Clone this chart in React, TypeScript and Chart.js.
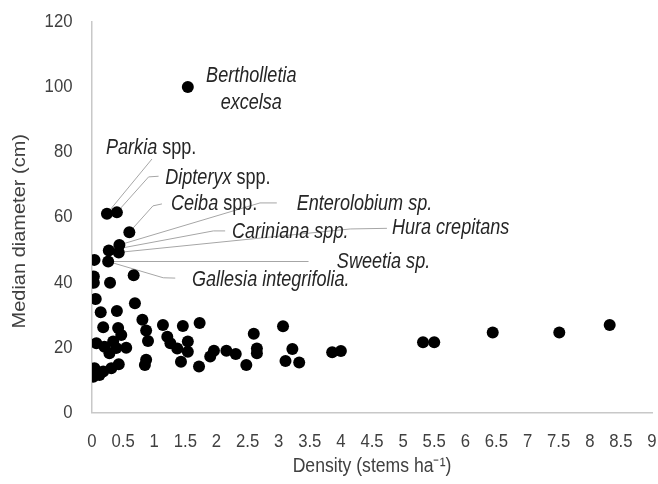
import { useEffect, useRef } from 'react';
import { Chart, registerables } from 'chart.js';

Chart.register(...registerables);

// ---- data (density in stems/ha, median diameter in cm) ----
const density = [
  1.54, 0.24, 0.40, 0.60, 0.44, 0.27, 0.43, 0.04, 0.26,
  0.03, 0.03, 0.29, 0.67, 0.06, 0.69, 0.14, 0.40, 0.81,
  0.18, 0.42, 0.47, 0.87, 0.90, 0.07, 0.20, 0.34, 0.39, 0.55, 0.28,
  0.87, 0.85, 0.04, 0.02, 0.18, 0.31, 0.43, 0.12,
  1.14, 1.46, 1.73, 1.21, 1.26, 1.37, 1.54, 1.54, 1.43, 1.72, 1.90, 1.96,
  2.16, 2.31, 2.48, 2.60, 2.65, 2.65, 3.07, 3.22, 3.11, 3.33, 3.86, 4.00,
  5.32, 5.50, 6.44, 7.51, 8.32,
];
const diameter = [
  100, 61.1, 61.5, 55.4, 51.5, 49.8, 49.2, 46.9, 46.4,
  41.8, 39.9, 39.9, 42.2, 34.9, 33.6, 30.8, 31.2, 28.5,
  26.2, 26.0, 23.8, 25.2, 22.0, 21.3, 20.2, 21.8, 19.8, 19.9, 18.2,
  16.2, 14.6, 13.6, 11.0, 12.6, 13.6, 14.8, 11.5,
  26.9, 26.6, 27.5, 23.3, 21.3, 19.7, 21.8, 18.7, 15.6, 14.1, 17.2, 19.0,
  19.0, 18.0, 14.6, 24.2, 19.7, 18.2, 26.5, 19.5, 15.8, 15.4, 18.5, 18.9,
  21.6, 21.6, 24.6, 24.6, 26.9,
];

const xTickValues = [0, 0.5, 1, 1.5, 2, 2.5, 3, 3.5, 4, 4.5, 5, 5.5, 6, 6.5, 7, 7.5, 8, 8.5, 9];
const yTickValues = [0, 20, 40, 60, 80, 100, 120];
const xTitle = 'Density (stems ha\u207B\u00B9)';
const yTitle = 'Median diameter (cm)';

// species label texts: [text, italic]
const speciesTexts: [string, boolean][][] = [
  [['Bertholletia', true]],
  [['excelsa', true]],
  [['Parkia', true], [' spp.', false]],
  [['Dipteryx', true], [' spp.', false]],
  [['Ceiba', true], [' spp.', false]],
  [['Enterolobium sp.', true]],
  [['Cariniana spp.', true]],
  [['Hura crepitans', true]],
  [['Sweetia sp.', true]],
  [['Gallesia integrifolia.', true]],
];
// label anchor in data units (x = left edge or centre, y = text middle)
const labelX = [2.56, 2.56, 0.225, 1.177, 1.27, 3.29, 2.25, 4.82, 3.935, 1.606];
const labelY = [103.3, 95.1, 81.3, 72.1, 64.1, 64.2, 55.6, 56.7, 46.1, 40.8];
const labelCentered = [true, true, false, false, false, false, false, false, false, false];
// leader bends (data units) from label towards the point, and the point index
const leaderBends: [number, number][][] = [
  [],
  [],
  [[0.964, 77.9]],
  [[1.07, 72.6], [0.91, 72.4]],
  [[1.124, 64.1], [0.98, 63.5]],
  [[2.97, 64.4], [2.70, 64.4]],
  [[2.14, 55.8], [1.95, 55.8]],
  [[4.74, 56.6], [4.15, 56.4]],
  [[3.48, 46.4]],
  [[1.338, 41.3], [1.145, 41.4]],
];
const leaderTarget = [-1, -1, 1, 2, 3, 4, 5, 6, 8, 8];

const SANS = '"Liberation Sans", Arial, sans-serif';

function drawCondensed(
  ctx: CanvasRenderingContext2D,
  text: string,
  x: number,
  y: number,
  font: string,
  align: CanvasTextAlign,
  sx: number,
) {
  ctx.save();
  ctx.font = font;
  ctx.textAlign = align;
  ctx.textBaseline = 'middle';
  ctx.translate(x, y);
  ctx.scale(sx, 1);
  ctx.fillText(text, 0, 0);
  ctx.restore();
}

const speciesPlugin = {
  id: 'speciesLabels',
  beforeDatasetsDraw(chart: any) {
    const ctx = chart.ctx;
    const xs = chart.scales.x;
    const ys = chart.scales.y;
    ctx.save();
    ctx.strokeStyle = '#a6a6a6';
    ctx.lineWidth = 1;
    leaderBends.forEach((bends, i) => {
      const t = leaderTarget[i];
      if (t < 0) return;
      ctx.beginPath();
      bends.forEach(([bx, by], k) => {
        const px = xs.getPixelForValue(bx);
        const py = ys.getPixelForValue(by);
        if (k === 0) ctx.moveTo(px, py);
        else ctx.lineTo(px, py);
      });
      ctx.lineTo(xs.getPixelForValue(density[t]), ys.getPixelForValue(diameter[t]));
      ctx.stroke();
    });
    ctx.restore();
  },
  afterDraw(chart: any) {
    const ctx: CanvasRenderingContext2D = chart.ctx;
    const xs = chart.scales.x;
    const ys = chart.scales.y;
    const area = chart.chartArea;

    // species labels
    const SX = 0.84;
    const fontFor = (it: boolean) => `${it ? 'italic ' : ''}21.5px ${SANS}`;
    ctx.save();
    ctx.fillStyle = '#262626';
    speciesTexts.forEach((parts, i) => {
      let total = 0;
      parts.forEach(([t, it]) => {
        ctx.font = fontFor(it);
        total += ctx.measureText(t).width * SX;
      });
      let px = xs.getPixelForValue(labelX[i]);
      if (labelCentered[i]) px -= total / 2;
      const py = ys.getPixelForValue(labelY[i]);
      parts.forEach(([t, it]) => {
        drawCondensed(ctx, t, px, py, fontFor(it), 'left', SX);
        ctx.font = fontFor(it);
        px += ctx.measureText(t).width * SX;
      });
    });

    // tick labels
    const TSX = 0.88;
    const tickFont = `19px ${SANS}`;
    ctx.fillStyle = '#404040';
    xTickValues.forEach((v) => {
      drawCondensed(ctx, String(v), xs.getPixelForValue(v), area.bottom + 29.5, tickFont, 'center', TSX);
    });
    yTickValues.forEach((v) => {
      drawCondensed(ctx, String(v), area.left - 19.5, ys.getPixelForValue(v), tickFont, 'right', TSX);
    });

    // axis titles
    drawCondensed(ctx, xTitle, (area.left + area.right) / 2, area.bottom + 54, `20px ${SANS}`, 'center', 0.88);
    ctx.save();
    ctx.font = `20px ${SANS}`;
    ctx.textAlign = 'center';
    ctx.textBaseline = 'middle';
    ctx.translate(20.5, (area.top + area.bottom) / 2 + 14);
    ctx.rotate(-Math.PI / 2);
    ctx.scale(1, 0.88);
    ctx.fillText(yTitle, 0, 0);
    ctx.restore();
    ctx.restore();
  },
};

export default function App() {
  const ref = useRef<HTMLCanvasElement | null>(null);

  useEffect(() => {
    document.body.style.margin = '0';
    if (!ref.current) return;
    const chart = new Chart(ref.current, {
      type: 'scatter',
      data: {
        datasets: [
          {
            data: density.map((x, i) => ({ x, y: diameter[i] })),
            backgroundColor: '#000000',
            borderWidth: 0,
            pointRadius: 6,
            pointHoverRadius: 6,
          },
        ],
      },
      options: {
        animation: false,
        responsive: false,
        events: [],
        layout: { padding: { top: 22, right: 6, bottom: 0, left: 0 } },
        plugins: { legend: { display: false }, tooltip: { enabled: false } },
        scales: {
          x: {
            type: 'linear',
            min: 0,
            max: 9,
            afterBuildTicks: (s: any) => {
              s.ticks = xTickValues.map((v) => ({ value: v }));
            },
            afterFit: (s: any) => {
              s.height = 71.5;
            },
            grid: { display: false, drawTicks: false, tickLength: 0 },
            border: { display: true, color: '#c8c8c8', width: 1.5 },
            ticks: { display: false },
            title: { display: false },
          },
          y: {
            type: 'linear',
            min: 0,
            max: 120,
            afterBuildTicks: (s: any) => {
              s.ticks = yTickValues.map((v) => ({ value: v }));
            },
            afterFit: (s: any) => {
              s.width = 92;
            },
            grid: { display: false, drawTicks: false, tickLength: 0 },
            border: { display: true, color: '#c8c8c8', width: 1.5 },
            ticks: { display: false },
            title: { display: false },
          },
        },
      },
      plugins: [speciesPlugin],
    } as any);
    return () => chart.destroy();
  }, []);

  return (
    <div style={{ width: 658, height: 484 }}>
      <canvas ref={ref} width={658} height={484} />
    </div>
  );
}
